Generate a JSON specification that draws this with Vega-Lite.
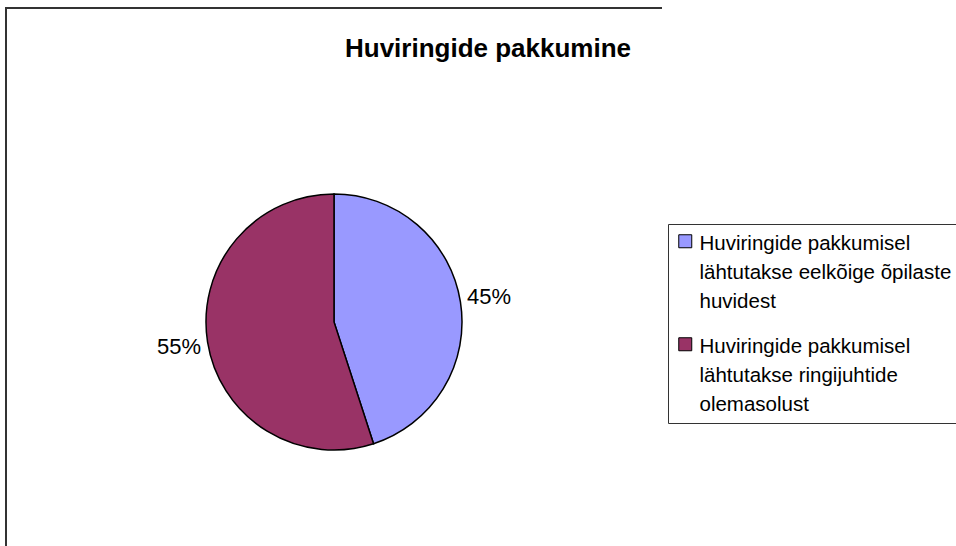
{
  "$schema": "https://vega.github.io/schema/vega-lite/v6.json",
  "width": 656,
  "height": 628,
  "autosize": "none",
  "padding": {"left": 6, "top": 8, "right": 294, "bottom": -90},
  "background": "white",
  "view": {"stroke": "#333333", "strokeWidth": 2, "strokeDash": [656, 1284, 628], "fill": null},
  "config": {"font": "Liberation Sans"},
  "title": {
    "text": "Huviringide pakkumine",
    "fontSize": 26,
    "fontWeight": "bold",
    "font": "Liberation Sans",
    "color": "black",
    "anchor": "middle",
    "frame": "group",
    "dx": 154,
    "offset": -54
  },
  "data": {
    "values": [
      {"idx": 1, "category": "Huviringide pakkumisel lähtutakse eelkõige õpilaste huvidest", "value": 0.45},
      {"idx": 2, "category": "Huviringide pakkumisel lähtutakse ringijuhtide olemasolust", "value": 0.55}
    ]
  },
  "encoding": {
    "theta": {"field": "value", "type": "quantitative", "stack": true},
    "order": {"field": "idx", "type": "quantitative"}
  },
  "layer": [
    {
      "mark": {"type": "arc", "outerRadius": 128, "stroke": "black", "strokeWidth": 1.5},
      "encoding": {
        "color": {
          "field": "category",
          "type": "nominal",
          "scale": {
            "domain": ["Huviringide pakkumisel lähtutakse eelkõige õpilaste huvidest", "Huviringide pakkumisel lähtutakse ringijuhtide olemasolust"],
            "range": ["#9999FF", "#993366"]
          },
          "legend": {
            "title": null,
            "orient": "none",
            "legendX": 662,
            "legendY": 216,
            "direction": "vertical",
            "padding": 7,
            "fillColor": "white",
            "strokeColor": "#333333",
            "symbolType": "square",
            "symbolSize": 169,
            "symbolStrokeColor": "black",
            "symbolStrokeWidth": 1,
            "symbolOpacity": 1,
            "labelFont": "Liberation Sans",
            "labelFontSize": 20.5,
            "labelColor": "black",
            "labelLimit": 500,
            "labelOffset": 4,
            "labelBaseline": "alphabetic",
            "rowPadding": 21,
            "labelExpr": "indexof(datum.label, 'eelkõige') >= 0 ? ['Huviringide pakkumisel', 'lähtutakse eelkõige õpilaste', 'huvidest'] : ['Huviringide pakkumisel', 'lähtutakse ringijuhtide', 'olemasolust']",
            "encode": {
              "labels": {"update": {"dy": {"value": 9}, "lineHeight": {"value": 29}}}
            }
          }
        }
      }
    },
    {
      "mark": {"type": "text", "radius": 157, "fontSize": 22, "color": "black", "font": "Liberation Sans"},
      "encoding": {
        "text": {"field": "value", "type": "quantitative", "format": ".0%"}
      }
    }
  ]
}
